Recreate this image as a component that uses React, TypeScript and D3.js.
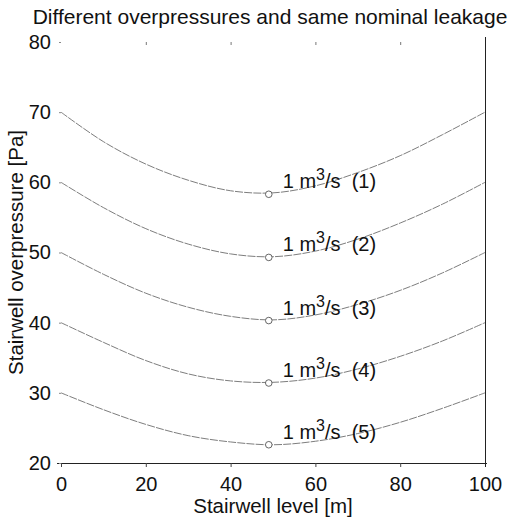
import { useEffect, useRef } from "react";
import * as d3 from "d3";

// stairwell level [m]
const levels = [0, 10, 20, 30, 40, 50, 60, 70, 80, 90, 100];

// overpressure [Pa], one array per case
const case1 = [70, 65.8, 62.6, 60.3, 58.8, 58.5, 59.5, 61.4, 63.8, 66.8, 70];
const case2 = [60, 56.4, 53.4, 51.2, 49.8, 49.4, 50.2, 51.9, 54.2, 56.9, 60];
const case3 = [50, 46.9, 44.2, 42.2, 40.9, 40.4, 41.1, 42.6, 44.6, 47.1, 50];
const case4 = [40, 37.2, 34.6, 32.7, 31.7, 31.5, 32.1, 33.4, 35.2, 37.4, 40];
const case5 = [30, 27.6, 25.5, 23.9, 23.0, 22.6, 23.1, 24.2, 25.8, 27.8, 30];

const markerLevel = 49;
const markerValues = [58.3, 49.3, 40.3, 31.4, 22.6];
const caseNames = ["(1)", "(2)", "(3)", "(4)", "(5)"];

const xTicks = [0, 20, 40, 60, 80, 100];
const yTicks = [20, 30, 40, 50, 60, 70, 80];

const W = 509;
const H = 518;
const FONT = "Liberation Sans, Arial, sans-serif";

const App = () => {
    const svgRef = useRef<SVGSVGElement>(null);

    useEffect(() => {
        if (!svgRef.current) return;
        const svg = d3.select(svgRef.current);
        svg.selectAll("*").remove();

        const x = d3.scaleLinear().domain([0, 100]).range([61, 485]);
        const y = d3.scaleLinear().domain([20, 80]).range([463, 42]);

        const series = [case1, case2, case3, case4, case5];

        const line = d3.line<number>()
            .x((_, i) => x(levels[i]))
            .y(d => y(d))
            .curve(d3.curveCatmullRom.alpha(0.5));

        // curves
        svg.append("g")
            .selectAll("path")
            .data(series)
            .join("path")
            .attr("d", d => line(d))
            .attr("fill", "none")
            .attr("stroke", "#666")
            .attr("stroke-width", 0.85)
            .attr("stroke-dasharray", "8,1.2");

        // markers
        svg.append("g")
            .selectAll("circle")
            .data(markerValues)
            .join("circle")
            .attr("cx", x(markerLevel))
            .attr("cy", d => y(d))
            .attr("r", 3.3)
            .attr("fill", "white")
            .attr("stroke", "#555")
            .attr("stroke-width", 0.9);

        // labels
        const labels = svg.append("g")
            .selectAll("text")
            .data(markerValues)
            .join("text")
            .attr("x", x(markerLevel) + 14)
            .attr("y", d => y(d) - 6)
            .attr("font-family", FONT)
            .attr("font-size", 20)
            .attr("fill", "#111")
            .style("white-space", "pre");
        labels.append("tspan").text("1 m");
        labels.append("tspan").attr("dy", -8).attr("font-size", 16).text("3");
        labels.append("tspan").attr("dy", 8).text((_, i) => `/s  ${caseNames[i]}`);

        // bottom axis
        const bottom = svg.append("g").attr("transform", `translate(0,${y(20)})`)
            .call(d3.axisBottom(x).tickValues(xTicks).tickSize(4).tickSizeOuter(0).tickPadding(10));
        bottom.select(".domain").attr("stroke", "#222").attr("d", `M${x(0) - 4},0.5H${x(100) + 2}`);
        bottom.selectAll("line").attr("stroke", "#444");
        bottom.selectAll("text")
            .attr("font-family", FONT)
            .attr("font-size", 20)
            .attr("fill", "#111");

        // left axis (tick labels + tiny ticks, no line)
        const left = svg.append("g").attr("transform", `translate(${x(0)},0)`)
            .call(d3.axisLeft(y).tickValues(yTicks).tickSize(2).tickSizeOuter(0).tickPadding(8));
        left.select(".domain").remove();
        left.selectAll("line").attr("stroke", "#888");
        left.selectAll("text")
            .attr("font-family", FONT)
            .attr("font-size", 20)
            .attr("fill", "#111");

        // top ticks
        svg.append("g").attr("transform", `translate(0,${y(80)})`)
            .call(d3.axisBottom(x).tickValues([20, 40, 60, 80]).tickSize(3).tickFormat(() => ""))
            .call(g => g.select(".domain").remove())
            .selectAll("line").attr("stroke", "#777");

        // right frame line
        svg.append("line")
            .attr("x1", x(100) + 0.5).attr("x2", x(100) + 0.5)
            .attr("y1", y(80) - 5).attr("y2", y(20) + 4)
            .attr("stroke", "#222");

        // title and axis titles
        svg.append("text")
            .attr("x", 270).attr("y", 24)
            .attr("text-anchor", "middle")
            .attr("font-family", FONT).attr("font-size", 21).attr("fill", "#111")
            .text("Different overpressures and same nominal leakage");

        svg.append("text")
            .attr("x", (x(0) + x(100)) / 2).attr("y", 513)
            .attr("text-anchor", "middle")
            .attr("font-family", FONT).attr("font-size", 20.5).attr("fill", "#111")
            .text("Stairwell level [m]");

        svg.append("text")
            .attr("transform", `translate(23,${(y(20) + y(80)) / 2}) rotate(-90)`)
            .attr("text-anchor", "middle")
            .attr("font-family", FONT).attr("font-size", 20.5).attr("fill", "#111")
            .text("Stairwell overpressure [Pa]");
    }, []);

    return (
        <svg
            ref={svgRef}
            width={W}
            height={H}
            style={{ position: "absolute", left: 0, top: 0, background: "white" }}
        />
    );
};

export default App;
